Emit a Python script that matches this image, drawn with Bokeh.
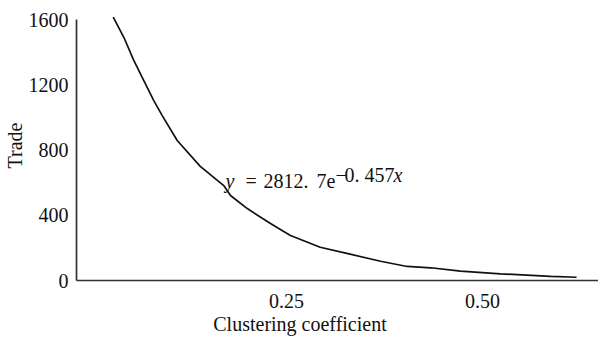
from bokeh.plotting import figure
from bokeh.models import FixedTicker, Label, Range1d
from bokeh.embed import file_html
from bokeh.resources import INLINE

# Data
clustering = [0.029, 0.0425, 0.0552, 0.068, 0.0807, 0.0915, 0.1106, 0.140, 0.170,
              0.1786, 0.200, 0.2296, 0.255, 0.293, 0.327, 0.370, 0.404, 0.434,
              0.472, 0.523, 0.587, 0.620]
trade = [1614, 1491, 1349, 1226, 1103, 1011, 858, 700, 582,
         521, 441, 349, 276, 204, 166, 118, 86, 78,
         57, 41, 25, 20]
x_ticks = [0.25, 0.50]
x_tick_labels = ["0.25", "0.50"]
y_ticks = [0, 400, 800, 1200, 1600]
x_title = "Clustering coefficient"
y_title = "Trade"

FONT = "Liberation Serif"
FS = "20px"
TXT = "#111111"

p = figure(width=598, height=337, output_backend="svg", toolbar_location=None,
           x_range=Range1d(-0.01786, 0.648), y_range=Range1d(0, 1655.2),
           min_border_left=76, min_border_right=0, min_border_top=10,
           min_border_bottom=57)
p.outline_line_color = None
p.xgrid.visible = False
p.ygrid.visible = False
p.background_fill_color = "white"
p.border_fill_color = "white"

p.line(clustering, trade, line_color="#111111", line_width=1.7)

for ax in (p.xaxis[0], p.yaxis[0]):
    ax.axis_line_color = "#333333"
    ax.axis_line_width = 1.7
    ax.major_tick_line_color = None
    ax.minor_tick_line_color = None
    ax.major_tick_in = 0
    ax.major_tick_out = 0
    ax.minor_tick_in = 0
    ax.minor_tick_out = 0
    ax.major_label_text_font = FONT
    ax.major_label_text_font_size = FS
    ax.major_label_text_color = TXT
    ax.axis_label_text_font = FONT
    ax.axis_label_text_font_size = FS
    ax.axis_label_text_font_style = "normal"
    ax.axis_label_text_color = TXT

p.xaxis[0].ticker = FixedTicker(ticks=x_ticks)
p.xaxis[0].major_label_overrides = {t: l for t, l in zip(x_ticks, x_tick_labels)}
p.xaxis[0].major_label_standoff = 13
# trailing no-break spaces shift the centred title left, under the ticks
p.xaxis[0].axis_label = x_title + "\u00a0" * 15
p.xaxis[0].axis_label_standoff = 2

p.yaxis[0].ticker = FixedTicker(ticks=y_ticks)
p.yaxis[0].bounds = (0, 1600)
p.yaxis[0].axis_label = y_title
p.yaxis[0].major_label_standoff = 8
p.yaxis[0].axis_label_standoff = 0

# Equation annotation: y = 2812. 7e^(-0. 457x)
ax0 = 0.1696
base = 607
sup = 644
pieces = [
    ("y", 2, base, "italic"),
    ("=", 22, base, "normal"),
    ("2812.", 40, base, "normal"),
    ("7e", 93, base, "normal"),
    ("\u2212", 112, sup, "normal"),
    ("0.", 121, sup, "normal"),
    ("457", 141, sup, "normal"),
    ("x", 170, sup, "italic"),
]
for txt, off, yy, style in pieces:
    p.add_layout(Label(x=ax0, y=yy, x_offset=off, text=txt, text_font=FONT,
                       text_font_size=FS, text_font_style=style,
                       text_color=TXT, text_baseline="alphabetic",
                       text_align="left"))

open("out.html", "w").write(file_html(p, INLINE))
